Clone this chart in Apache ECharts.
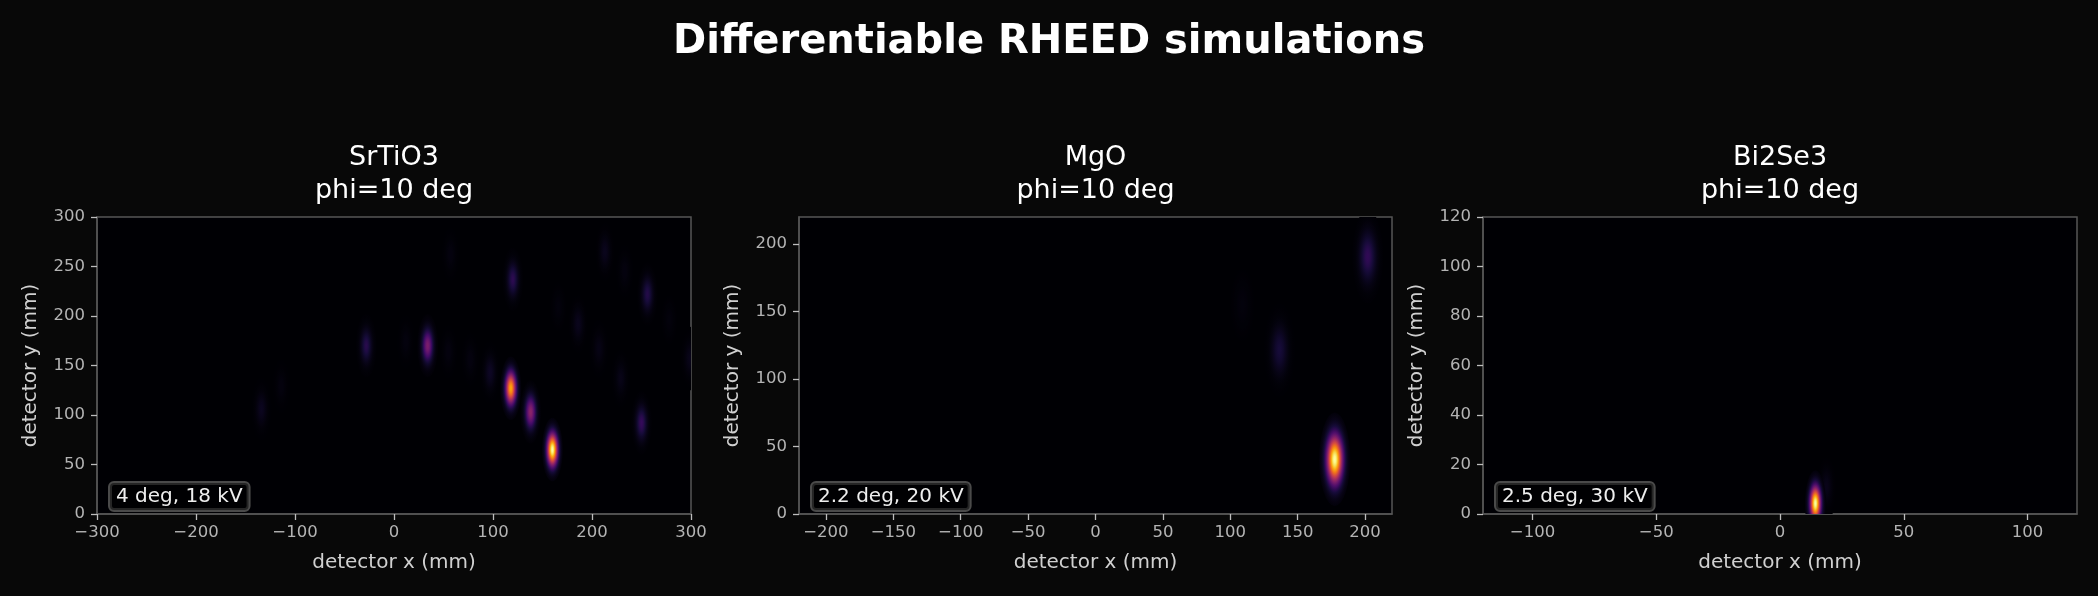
<!DOCTYPE html>
<html>
<head>
<meta charset="utf-8">
<script src="https://cdn.jsdelivr.net/npm/echarts@6/dist/echarts.min.js"></script>
<style>
  html, body { margin: 0; background: #080808; }
  #chart { width: 2098px; height: 596px; }
</style>
</head>
<body>
<div id="chart"></div>
<script>
// diffraction spots: centre x/y on the detector (mm) and peak intensity (0..1)
const srtio3X = [160, 118, 138, 34, -28, 120, 256, 250, 97, 186, 213, 229, 207, -134, 233, 57, -114, 299, 77, 55, 12, 278, 166];
const srtio3Y = [65, 127, 103, 170, 170, 237, 222, 92, 143, 192, 265, 137, 167, 106, 245, 262, 129, 157, 156, 164, 174, 196, 209];
const srtio3I = [1.0, 0.8, 0.38, 0.34, 0.14, 0.15, 0.13, 0.17, 0.06, 0.045, 0.045, 0.035, 0.03, 0.05, 0.02, 0.02, 0.018, 0.04, 0.02, 0.02, 0.018, 0.015, 0.015];

const mgoX = [177.5, 202, 136.5, 109];
const mgoY = [40.5, 190.6, 121.5, 155];
const mgoI = [1.0, 0.16, 0.1, 0.015];

const bi2se3X = [14.3, 18.8];
const bi2se3Y = [4.3, 11];
const bi2se3I = [1.0, 0.04];

// tick labels
const srtio3XTicks = [-300, -200, -100, 0, 100, 200, 300];
const srtio3YTicks = [0, 50, 100, 150, 200, 250, 300];
const mgoXTicks = [-200, -150, -100, -50, 0, 50, 100, 150, 200];
const mgoYTicks = [0, 50, 100, 150, 200];
const bi2se3XTicks = [-100, -50, 0, 50, 100];
const bi2se3YTicks = [0, 20, 40, 60, 80, 100, 120];

const panelTitles = ["SrTiO3", "MgO", "Bi2Se3"];
const panelNotes = ["4 deg, 18 kV", "2.2 deg, 20 kV", "2.5 deg, 30 kV"];

const FONT = "DejaVu Sans";
const inferno = ["#000004", "#160b39", "#420a68", "#6a176e", "#932667", "#bc3754",
  "#dd513a", "#f37819", "#fca50a", "#f6d746", "#fcffa4"];

function hexRgb(h) {
  return [1, 3, 5].map((i) => parseInt(h.slice(i, i + 2), 16));
}
function cmap(v) {
  v = Math.max(0, Math.min(1, v)) * 10;
  const i = Math.min(9, Math.floor(v));
  const f = v - i;
  const a = hexRgb(inferno[i]), b = hexRgb(inferno[i + 1]);
  const c = a.map((x, k) => Math.round(x + (b[k] - x) * f));
  return `rgb(${c[0]},${c[1]},${c[2]})`;
}
// radial gaussian fill, radius = 3 sigma
function spotFill(peak) {
  const stops = [];
  for (let k = 0; k <= 14; k++) {
    const t = k / 14;
    stops.push({ offset: t, color: cmap(peak * Math.exp(-(3 * t) * (3 * t) / 2)) });
  }
  return { type: "radial", x: 0.5, y: 0.5, r: 0.5, colorStops: stops };
}

const panels = [
  { left: 97, width: 594, xMin: -300, xMax: 300, yMin: 0, yMax: 300, xTicks: srtio3XTicks, yTicks: srtio3YTicks, xs: srtio3X, ys: srtio3Y, is: srtio3I, sx: 3.5, sy: 10.6 },
  { left: 799, width: 593, xMin: -220, xMax: 220, yMin: 0, yMax: 220, xTicks: mgoXTicks, yTicks: mgoYTicks, xs: mgoX, ys: mgoY, is: mgoI, sx: 5.2, sy: 15.6 },
  { left: 1483, width: 594, xMin: -120, xMax: 120, yMin: 0, yMax: 120, xTicks: bi2se3XTicks, yTicks: bi2se3YTicks, xs: bi2se3X, ys: bi2se3Y, is: bi2se3I, sx: 3.5, sy: 11 },
];
const TOP = 217, HEIGHT = 297;

const fmt = (v) => String(v).replace("-", "\u2212");
const labelStyle = { color: "#b4b4b4", fontSize: 16.5, fontFamily: FONT };
const nameStyle = { color: "#d0d0d0", fontSize: 20, fontFamily: FONT };
const tickStyle = { color: "#bdbdbd", width: 1.3 };
const spine = { color: "#555555", width: 1.5 };

const chart = echarts.init(document.getElementById("chart"));

const grid = panels.map((p) => ({
  left: p.left, top: TOP, width: p.width, height: HEIGHT,
  show: true, backgroundColor: "#000004", borderColor: spine.color, borderWidth: spine.width,
  outerBoundsMode: "none",
}));

const xAxis = panels.map((p, i) => ({
  type: "value", gridIndex: i, min: p.xMin, max: p.xMax,
  axisLine: { show: true, onZero: false, lineStyle: spine },
  axisTick: { show: true, length: 6, lineStyle: tickStyle, customValues: p.xTicks },
  axisLabel: { ...labelStyle, margin: 10, customValues: p.xTicks, formatter: fmt },
  splitLine: { show: false },
  name: "detector x (mm)", nameLocation: "middle", nameGap: 39, nameTextStyle: nameStyle,
}));

const yAxis = panels.map((p, i) => ({
  type: "value", gridIndex: i, min: p.yMin, max: p.yMax,
  axisLine: { show: true, onZero: false, lineStyle: spine },
  axisTick: { show: true, length: 6, lineStyle: tickStyle, customValues: p.yTicks },
  axisLabel: { ...labelStyle, margin: 12, customValues: p.yTicks, formatter: fmt },
  splitLine: { show: false },
  name: "detector y (mm)", nameLocation: "middle", nameGap: 56, nameTextStyle: nameStyle,
}));

const series = panels.map((p, i) => ({
  type: "custom", xAxisIndex: i, yAxisIndex: i, clip: true, silent: true,
  data: p.xs.map((x, k) => [x, p.ys[k], p.is[k]]).sort((a, b) => a[2] - b[2]),
  renderItem(params, api) {
    const pt = api.coord([api.value(0), api.value(1)]);
    const cs = params.coordSys;
    return {
      type: "group",
      clipPath: { type: "rect", shape: { x: cs.x, y: cs.y, width: cs.width, height: cs.height } },
      children: [{
        type: "circle", x: pt[0], y: pt[1], scaleY: p.sy / p.sx,
        shape: { cx: 0, cy: 0, r: 3 * p.sx },
        style: { fill: spotFill(api.value(2)), blend: "lighter" },
      }],
    };
  },
}));

const graphic = [
  { type: "text", x: 1049, y: 43, style: { text: "Differentiable RHEED simulations", fontSize: 40, fontWeight: "bold", fontFamily: FONT, fill: "#ffffff", align: "center", verticalAlign: "middle" } },
];
panels.forEach((p, i) => {
  const cx = p.left + p.width / 2;
  graphic.push(
    { type: "text", x: cx, y: 158, style: { text: panelTitles[i], fontSize: 27, fontFamily: FONT, fill: "#ffffff", align: "center", verticalAlign: "middle" } },
    { type: "text", x: cx, y: 190.5, style: { text: "phi=10 deg", fontSize: 27, fontFamily: FONT, fill: "#ffffff", align: "center", verticalAlign: "middle" } },
    { type: "text", x: p.left + 13, y: 496.5, z: 100, style: {
      text: panelNotes[i], fontSize: 20, fontFamily: FONT, fill: "#eeeeee",
      align: "left", verticalAlign: "middle",
      backgroundColor: "rgba(0,0,0,0.5)", borderColor: "#4a4a4a", borderWidth: 2, borderRadius: 4,
      padding: [4, 6, 3, 6],
    } }
  );
});

chart.setOption({
  backgroundColor: "#080808",
  animation: false,
  grid, xAxis, yAxis, series, graphic,
});

window.addEventListener("resize", () => chart.resize());
</script>
</body>
</html>
